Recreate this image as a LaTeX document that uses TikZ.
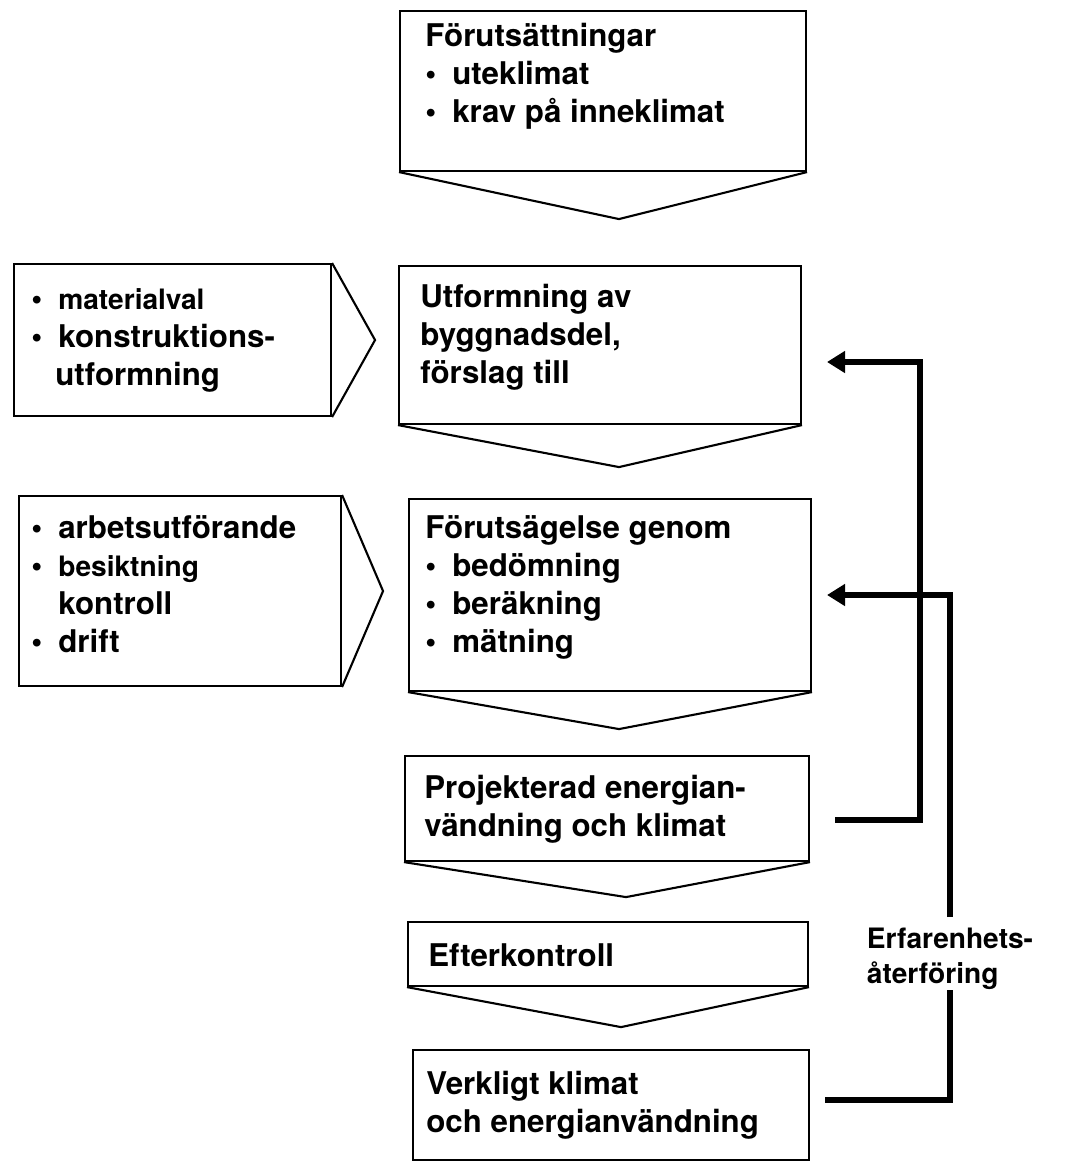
\documentclass[tikz,border=0pt]{standalone}
\usepackage{fontspec}
\setmainfont{TeX Gyre Heros}
\usetikzlibrary{calc,arrows.meta}

\newcommand{\itm}{\makebox[0.54cm][l]{\textbullet}}
\newcommand{\ind}{\hspace*{0.54cm}}
\newcommand{\tp}{\rule{0pt}{0.62cm}}
\newcommand{\smal}{\fontsize{16}{21.6}\selectfont}

\tikzset{
  box/.style={draw, line width=1.2pt, anchor=north west, inner sep=0pt},
  txt/.style={anchor=north west, align=left, inner sep=0pt,
    font=\bfseries\fontsize{17.8}{21.6}\selectfont},
  feed/.style={line width=3pt},
  feedarrow/.style={feed, -{Triangle[length=0.36cm,width=0.42cm]}}
}

\begin{document}
\begin{tikzpicture}[x=0.02cm, y=-0.02cm]
\useasboundingbox (0,0) rectangle (1078,1163);

% main column
\node (b1)[box, minimum width=8.12cm, minimum height=3.2cm] at (399,10) {};
\node (b2)[box, minimum width=8.04cm, minimum height=3.16cm] at (398,265) {};
\node (b3)[box, minimum width=8.04cm, minimum height=3.84cm] at (408,498) {};
\node (b4)[box, minimum width=8.08cm, minimum height=2.1cm] at (404,755) {};
\node (b5)[box, minimum width=8.0cm, minimum height=1.28cm] at (407,921) {};
\node (b6)[box, minimum width=7.92cm, minimum height=2.2cm] at (412,1049) {};

% side boxes
\node (u1)[box, minimum width=6.34cm, minimum height=3.04cm] at (13,263) {};
\node (u2)[box, minimum width=6.44cm, minimum height=3.8cm] at (18,495) {};

% chevrons
\draw[line width=1.2pt] (b1.south west) -- ($(b1.south)+(16,47)$) -- (b1.south east);
\draw[line width=1.2pt] (b2.south west) -- ($(b2.south)+(19,42)$) -- (b2.south east);
\draw[line width=1.2pt] (b3.south west) -- ($(b3.south)+(9,37)$) -- (b3.south east);
\draw[line width=1.2pt] (b4.south west) -- ($(b4.south)+(19,35)$) -- (b4.south east);
\draw[line width=1.2pt] (b5.south west) -- ($(b5.south)+(13,40)$) -- (b5.south east);
\draw[line width=1.2pt] (u1.north east) -- ($(u1.east)+(43,0)$) -- (u1.south east);
\draw[line width=1.2pt] (u2.north east) -- ($(u2.east)+(41,0)$) -- (u2.south east);

% texts
\node (t1)[txt] at (425,15) {\tp Förutsättningar\\\itm uteklimat\\\itm krav på inneklimat};
\node (t2)[txt] at (420,276) {\tp Utformning av\\byggnadsdel,\\förslag till};
\node (t3)[txt] at (425,507) {\tp Förutsägelse genom\\\itm bedömning\\\itm beräkning\\\itm mätning};
\node (t4)[txt] at (424,767) {\tp Projekterad energian-\\vändning och klimat};
\node (t5)[txt] at (428,935) {\tp Efterkontroll};
\node (t6)[txt] at (426,1063) {\tp Verkligt klimat\\och energianvändning};
\node (s1)[txt] at (31,278) {\tp\itm{\smal materialval}\\\itm konstruktions-\\\hspace*{0.48cm}utformning};
\node (s2)[txt] at (31,507) {\tp\itm arbetsutförande\\\itm{\smal besiktning}\\\ind kontroll\\\itm drift};
\node (lab)[txt, anchor=north, font=\bfseries\fontsize{16}{19.9}\selectfont] at (950,917) {\tp Erfarenhets-\\återföring};

% feedback
\coordinate (f1s) at (835,820);
\coordinate (f1e) at (827,362);
\coordinate (f2s) at (825,1100);
\coordinate (f2e) at (827,595);

\draw[feedarrow] (f1s) -- ++(85,0) |- (f1e);
\draw[feed] (f2s) -| (lab.south);
\draw[feedarrow] (lab.north) |- (f2e);

\end{tikzpicture}
\end{document}
